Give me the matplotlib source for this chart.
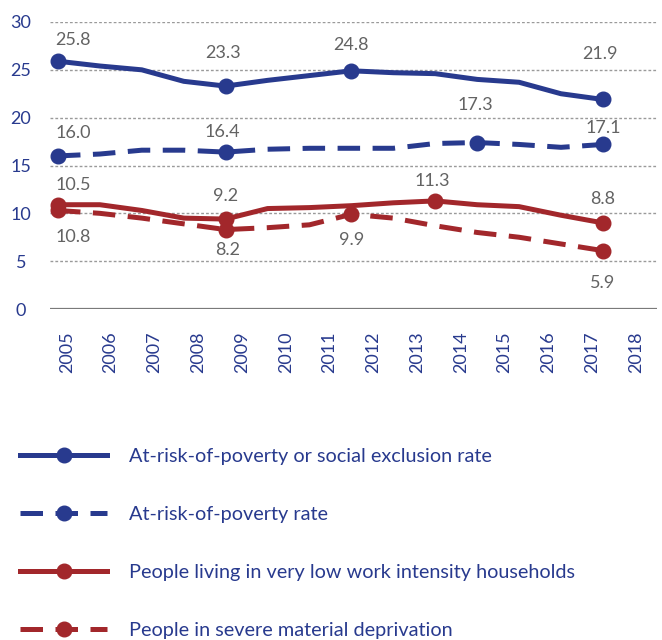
import numpy as np
import matplotlib
matplotlib.use("Agg")
import matplotlib.pyplot as plt

plt.rcParams['font.family'] = ['Lato', 'DejaVu Sans']

# data
years = list(range(2005, 2019))
arope = [25.9, 25.4, 25.0, 23.8, 23.3, 23.9, 24.4, 24.9, 24.7, 24.6, 24.0, 23.7, 22.5, 21.9]
arop = [16.0, 16.2, 16.6, 16.6, 16.4, 16.7, 16.8, 16.8, 16.8, 17.3, 17.4, 17.2, 16.9, 17.2]
lwi = [10.9, 10.9, 10.3, 9.5, 9.4, 10.5, 10.6, 10.8, 11.1, 11.3, 10.9, 10.7, 9.8, 9.0]
smd = [10.3, 10.0, 9.5, 8.9, 8.3, 8.5, 8.8, 9.9, 9.5, 8.7, 8.0, 7.5, 6.8, 6.1]

series_names = ["At-risk-of-poverty or social exclusion rate",
                "At-risk-of-poverty rate",
                "People living in very low work intensity households",
                "People in severe material deprivation"]
marker_years = [[2005, 2009, 2012, 2018],
                [2005, 2009, 2015, 2018],
                [2005, 2009, 2014, 2018],
                [2005, 2009, 2012, 2018]]
marker_texts = [["25.8", "23.3", "24.8", "21.9"],
                ["16.0", "16.4", "17.3", "17.1"],
                ["10.5", "9.2", "11.3", "8.8"],
                ["10.8", "8.2", "9.9", "5.9"]]
tick_labels = [str(y) for y in range(2005, 2019)]

# label offsets in pixels (dx, dy)
offsets = [[(15, 21), (-3, 33), (0, 26), (-3, 45)],
           [(15, 23), (-3, 20), (-2, 38), (0, 16)],
           [(15, 20), (0, 23), (-3, 20), (0, 24)],
           [(15, -27), (2, -20), (0, -26), (0, -32)]]

navy = "#283a8e"
red = "#a2272b"
gray_txt = "#636363"
colors = [navy, navy, red, red]
styles = ["-", (0, (4.5, 2.5)), "-", (0, (4.5, 2.5))]

fig = plt.figure(figsize=(6.62, 6.40), dpi=100)
ax = fig.add_axes([50 / 662, 1 - 309 / 640, 607 / 662, 287 / 640])

all_vals = [arope, arop, lwi, smd]
order = [3, 2, 1, 0]
handles = [None] * 4
for i in order:
    vals = all_vals[i]
    ax.plot(years, vals, color=colors[i], lw=3.6, linestyle=styles[i],
            solid_capstyle="butt", dash_capstyle="butt", zorder=3 + (3 - i) * 0.1)
    my = marker_years[i]
    mv = [vals[years.index(y)] for y in my]
    ax.plot(my, mv, "o", color=colors[i], ms=10.5, zorder=4)
    for (x, y, t, off) in zip(my, mv, marker_texts[i], offsets[i]):
        ax.annotate(t, (x, y), xytext=off, textcoords="offset pixels",
                    ha="center", va="center", color=gray_txt, fontsize=13)
    handles[i] = plt.Line2D([], [], color=colors[i], lw=3.6, linestyle=styles[i],
                            marker="o", ms=10.5, dash_capstyle="butt")

ax.set_xlim(2004.81, 2019.29)
ax.set_ylim(0, 30)
ax.set_yticks([0, 5, 10, 15, 20, 25, 30])
for yv in [5, 10, 15, 20, 25, 30]:
    ax.axhline(yv, color="#9a9a9a", lw=1.0, linestyle=(0, (2, 1.5)), zorder=1)
ax.axhline(0, color="#7a7a7a", lw=1.6, zorder=2)

ax.set_xticks(np.linspace(2005.21, 2018.79, 14))
ax.set_xticklabels(tick_labels, rotation=90)
ax.tick_params(axis="x", length=0, pad=16, labelsize=13, labelcolor=navy)
ax.tick_params(axis="y", length=0, pad=21, labelsize=13, labelcolor=navy)
for lab in ax.get_yticklabels():
    lab.set_horizontalalignment("center")
for s in ax.spines.values():
    s.set_visible(False)

leg = fig.legend(handles, series_names, loc="upper left",
                 bbox_to_anchor=(2 / 662, 1 - 430 / 640), frameon=False,
                 fontsize=14.3, labelcolor=navy, handlelength=4.4,
                 handletextpad=1.1, labelspacing=2.07, numpoints=1)

fig.savefig("out.png", dpi=100)
